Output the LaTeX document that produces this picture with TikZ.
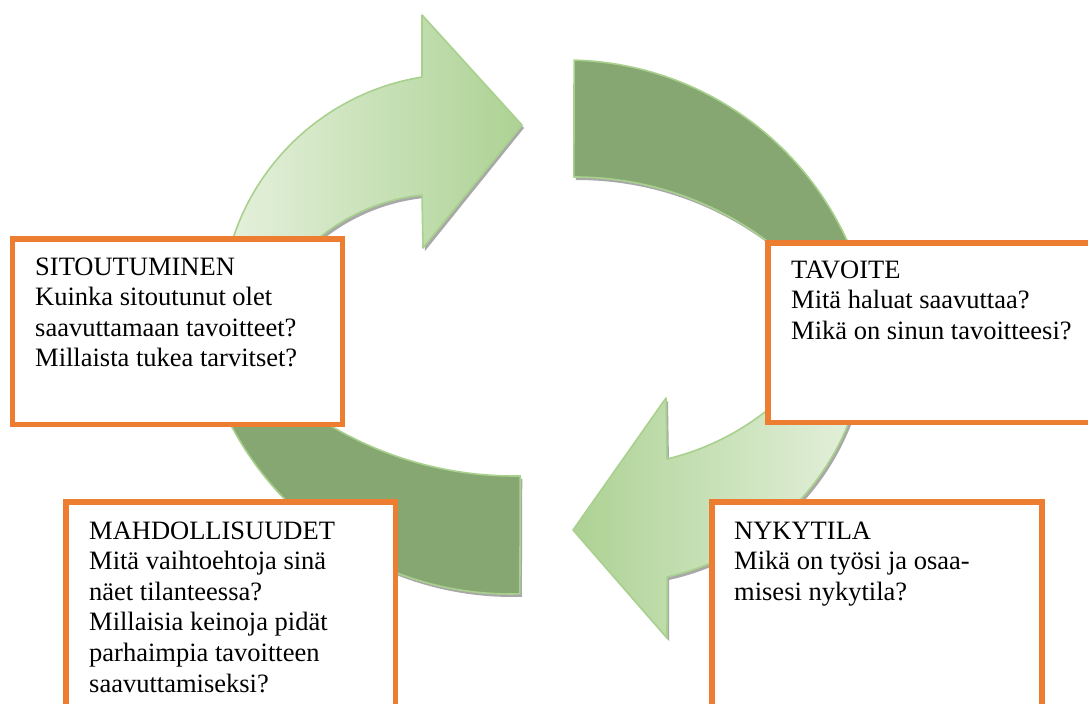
\documentclass[tikz,border=0pt]{standalone}
\usepackage{fontspec}
\setmainfont{Liberation Serif}
\definecolor{orng}{HTML}{ED7D31}
\definecolor{dkg}{HTML}{86A771}
\definecolor{edg}{HTML}{A9D18E}
\definecolor{ltg}{HTML}{E6F1DE}
\definecolor{mdg}{HTML}{ADD294}
\definecolor{shd}{HTML}{8C8C8C}
\tikzset{
  shapeedge/.style={draw=edg, line width=1.6pt, line join=round},
  shadowfill/.style={fill=shd, fill opacity=0.75, draw=none},
  orbox/.style={draw=orng, line width=5.5pt, fill=white},
  txt/.style={anchor=base west, inner sep=0pt, font=\fontsize{26.5}{30.6}\selectfont},
  arcplot/.style={samples=48, variable=\t},
}
% top-left light arrow
\def\pathTL{plot[arcplot, domain=175:260.85] ({460+239*cos(\t)},{313+239*sin(\t)}) -- (422,15) -- (522,125) -- (423,248) -- (422,195) -- plot[arcplot, domain=264.1:215] ({442+194*cos(\t)},{388+194*sin(\t)}) -- cycle}
% top-right dark segment
\def\pathTR{plot[arcplot, domain=-88.5:-10] ({566+309*cos(\t)},{369+309*sin(\t)}) -- plot[arcplot, domain=-45:-90.2] ({575+320*cos(\t)},{497+320*sin(\t)}) -- cycle}
% bottom-right light arrow
\def\pathBR{plot[arcplot, domain=-10:77.5] ({612+255*cos(\t)},{328+255*sin(\t)}) -- (667,638) -- (573,530) -- (666,398) -- (667,459) -- plot[arcplot, domain=76.5:30] ({607+257.6*cos(\t)},{208.5+257.6*sin(\t)}) -- cycle}
% bottom-left dark segment
\def\pathBL{plot[arcplot, domain=88.2:165] ({510+315*cos(\t)},{279+315*sin(\t)}) -- plot[arcplot, domain=125:89] ({514+360*cos(\t)},{116+360*sin(\t)}) -- cycle}
\begin{document}
\begin{tikzpicture}[x=1pt,y=-1pt]
\useasboundingbox (0,0) rectangle (1088,704);
\clip (0,0) rectangle (1088,704);
\fill[white] (0,0) rectangle (1088,704);
% shadows
\fill[shadowfill, shift={(2,3)}] \pathTL;
\fill[shadowfill, shift={(2,3)}] \pathTR;
\fill[shadowfill, shift={(2,3)}] \pathBR;
\fill[shadowfill, shift={(2,3)}] \pathBL;
% arrow shapes
\path[shapeedge, left color=ltg, right color=mdg] \pathTL;
\path[shapeedge, fill=dkg] \pathTR;
\path[shapeedge, left color=mdg, right color=ltg] \pathBR;
\path[shapeedge, fill=dkg] \pathBL;
% boxes
\draw[orbox] (12.5,239) rectangle (342.5,424.5);
\draw[orbox] (768,243) rectangle (1100,422.5);
\draw[orbox] (712,502) rectangle (1042,720);
\draw[orbox] (66,502) rectangle (395.5,720);
% texts
\node[txt] (sit) at (35,275) {\begin{tabular}[t]{@{}l@{}}SITOUTUMINEN\\Kuinka sitoutunut olet\\saavuttamaan tavoitteet?\\Millaista tukea tarvitset?\end{tabular}};
\node[txt] (tav) at (791,278) {\begin{tabular}[t]{@{}l@{}}TAVOITE\\Mitä haluat saavuttaa?\\Mikä on sinun tavoitteesi?\end{tabular}};
\node[txt] (nyk) at (734,539) {\begin{tabular}[t]{@{}l@{}}NYKYTILA\\Mikä on työsi ja osaa-\\misesi nykytila?\end{tabular}};
\node[txt] (mah) at (89,539) {\begin{tabular}[t]{@{}l@{}}MAHDOLLISUUDET\\Mitä vaihtoehtoja sinä\\näet tilanteessa?\\Millaisia keinoja pidät\\parhaimpia tavoitteen\\saavuttamiseksi?\end{tabular}};
\end{tikzpicture}
\end{document}
